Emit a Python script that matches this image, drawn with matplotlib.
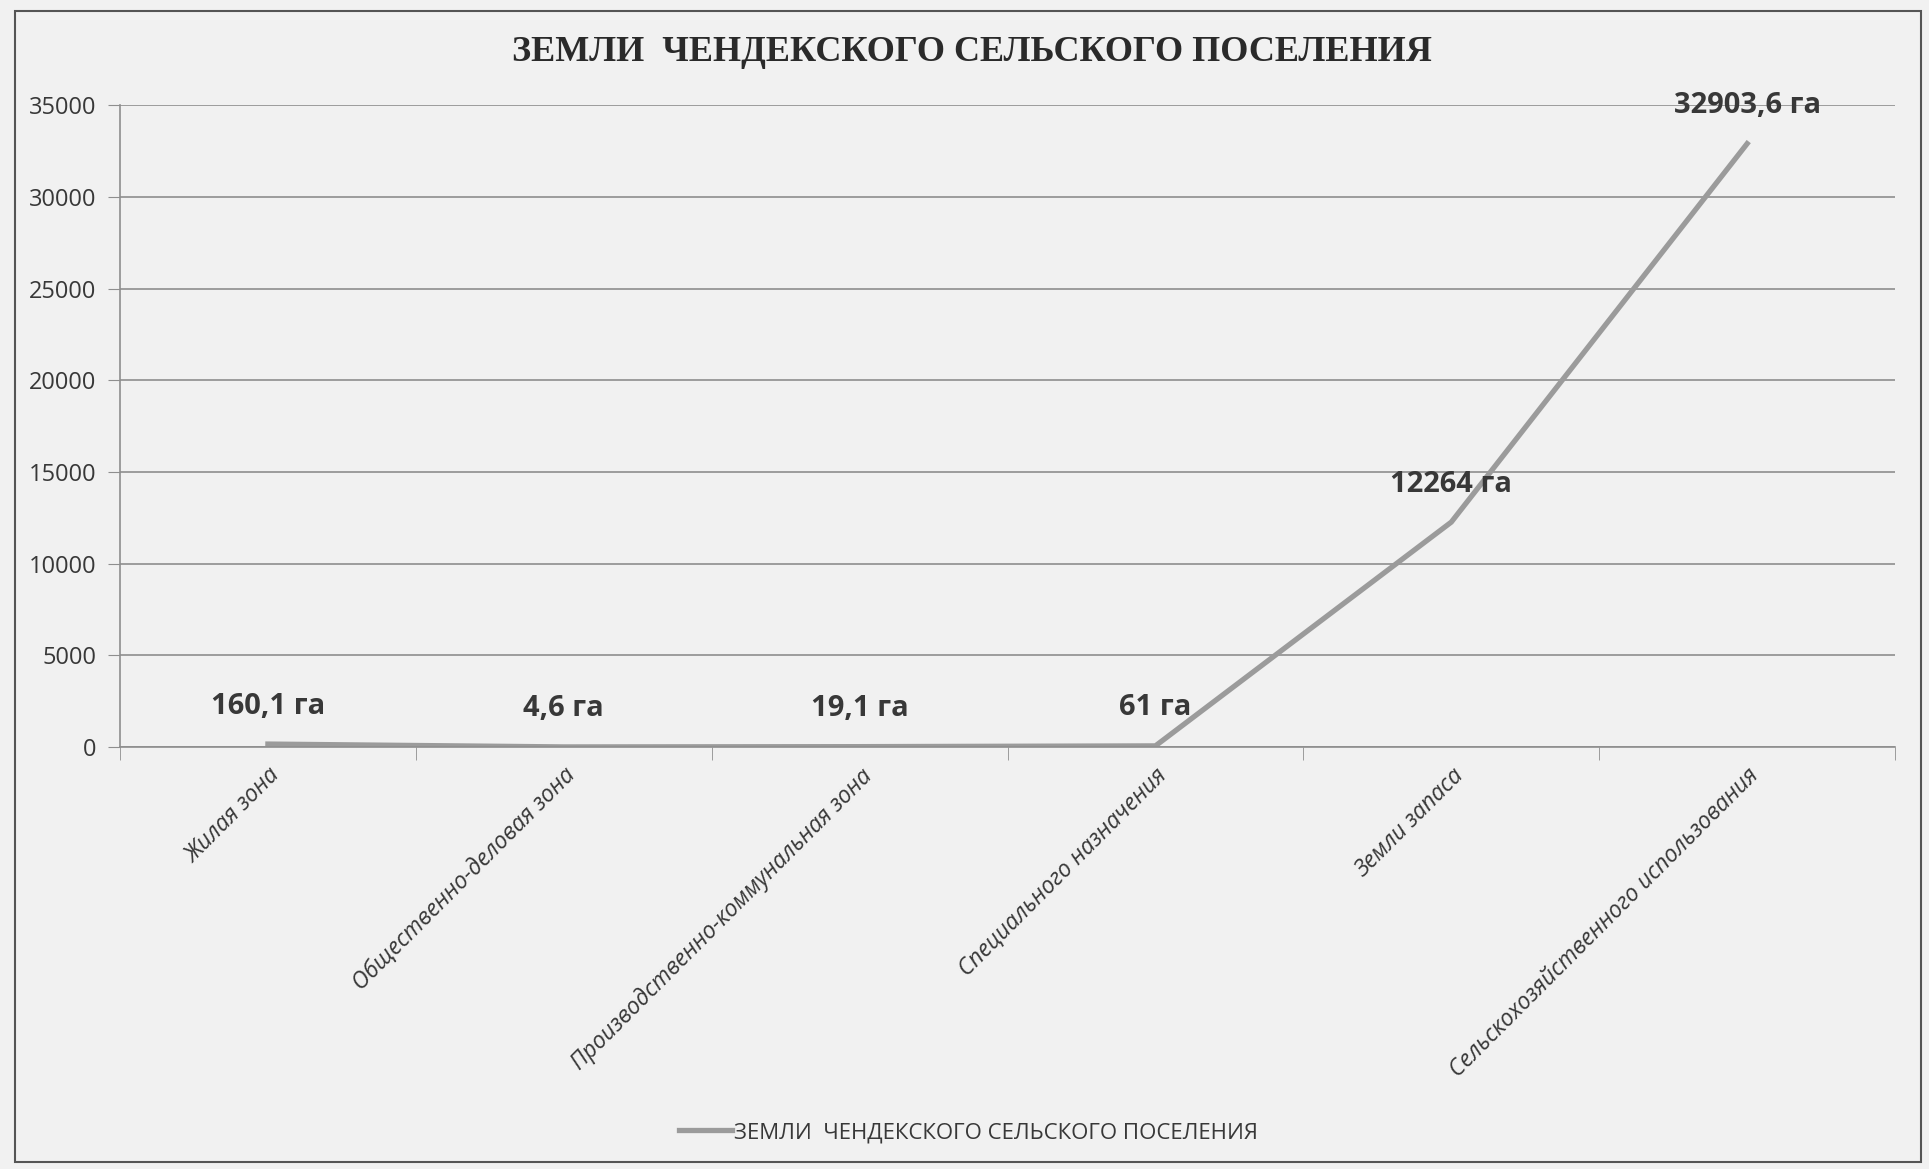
import matplotlib
matplotlib.use("Agg")
import matplotlib.pyplot as plt
from matplotlib.lines import Line2D
from matplotlib.patches import Rectangle

plt.rcParams['font.family'] = ['Open Sans', 'DejaVu Sans']

# data
categories = ["Жилая зона", "Общественно-деловая зона",
              "Производственно-коммунальная зона", "Специального назначения",
              "Земли запаса", "Сельскохозяйственного использования"]
areas = [160.1, 4.6, 19.1, 61, 12264, 32903.6]
area_labels = ["160,1 га", "4,6 га", "19,1 га", "61 га", "12264 га", "32903,6 га"]
yticks = [0, 5000, 10000, 15000, 20000, 25000, 30000, 35000]
title = "ЗЕМЛИ  ЧЕНДЕКСКОГО СЕЛЬСКОГО ПОСЕЛЕНИЯ"

bg = "#f1f1f1"
line_col = "#9b9b9b"
grid_col = "#8e8e8e"
text_col = "#383838"

fig = plt.figure(figsize=(19.29, 11.69), dpi=100, facecolor=bg)
ax = fig.add_axes([0.0622, 0.361, 0.9202, 0.549])
ax.set_facecolor(bg)

x = list(range(len(categories)))
ax.plot(x, areas, color=line_col, lw=3.8, solid_joinstyle="miter",
        label=title)

for xi, v, s in zip(x, areas, area_labels):
    ax.annotate(s, (xi, v), xytext=(0, 38), textcoords="offset pixels",
                ha="center", va="center", fontsize=21, fontweight="bold",
                color=text_col)

ax.set_xlim(-0.5, len(categories) - 0.5)
ax.set_ylim(0, 35000)
ax.set_yticks(yticks)
ax.set_yticklabels([str(t) for t in yticks], fontsize=17, color=text_col)
ax.yaxis.grid(True, color=grid_col, lw=1.2)
ax.set_axisbelow(True)

ax.set_xticks(x)
ax.set_xticklabels(categories, rotation=45, ha="right", va="top",
                   rotation_mode="anchor", fontsize=16.5, style="italic",
                   color=text_col)
ax.tick_params(axis="x", which="major", length=0, pad=12)
ax.set_xticks([i - 0.5 for i in range(len(categories) + 1)], minor=True)
ax.tick_params(axis="x", which="minor", length=9, color=grid_col, direction="out")
ax.tick_params(axis="y", length=9, color=grid_col, pad=8)

for side in ["top", "right"]:
    ax.spines[side].set_visible(False)
ax.spines["left"].set_color(grid_col)
ax.spines["bottom"].set_color(grid_col)
ax.spines["left"].set_linewidth(1.2)
ax.spines["bottom"].set_linewidth(1.2)

fig.text(0.504, 0.955, title, ha="center", va="center", fontsize=26,
         fontweight="bold", family="Liberation Serif", color="#2a2a2a")

handle = Line2D([], [], color=line_col, lw=3.8)
fig.legend([handle], [title], loc="center", bbox_to_anchor=(0.502, 0.031),
           frameon=False, fontsize=16, handlelength=2.4, handletextpad=0.1,
           labelcolor=text_col)

fig.patches.append(Rectangle((0.008, 0.006), 0.988, 0.985, transform=fig.transFigure,
                             fill=False, edgecolor="#555555", lw=1.5))

fig.savefig("out.png", dpi=100, facecolor=bg)
